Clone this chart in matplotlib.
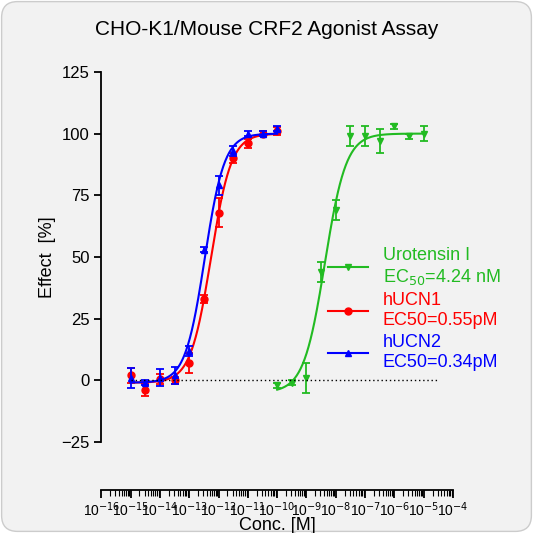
import numpy as np
import matplotlib
matplotlib.use("Agg")
import matplotlib.pyplot as plt
from matplotlib.patches import FancyBboxPatch

plt.rcParams['font.family'] = ['Liberation Sans', 'DejaVu Sans']

logx_ucn = [-15, -14.5, -14, -13.5, -13, -12.5, -12, -11.5, -11, -10.5, -10]
hucn1 = [2, -4, 0.5, 0, 7, 33, 68, 90, 96, 100, 101]
hucn1_err = [3, 2.5, 2, 1.5, 4, 1.5, 6, 2, 2, 1, 1.5]
hucn2 = [1, -1, 1, 2, 12, 53, 79, 93, 100, 100, 102]
hucn2_err = [4, 1, 3.5, 3.5, 2, 1, 4, 2, 1, 1, 1]
logx_uro = [-10, -9.5, -9, -8.5, -8, -7.5, -7, -6.5, -6, -5.5, -5]
uro = [-2, -1, 1, 44, 69, 99, 99, 97, 103, 99, 100]
uro_err = [1, 1, 6, 4, 4, 4, 4, 5, 1, 1, 3]

fits = {  # bottom, top, logEC50, hill
    'uro': (-5, 100, np.log10(4.24e-9), 1.2),
    'h1': (-1, 100, np.log10(5.5e-13), 1.25),
    'h2': (-1, 100, np.log10(3.4e-13), 1.3),
}
def fpl(lx, b, t, le, h):
    return b + (t - b) / (1 + 10 ** ((le - lx) * h))

fig = plt.figure(figsize=(5.33, 5.33), dpi=100)
fig.patch.set_facecolor('white')
bg = FancyBboxPatch((0.003, 0.003), 0.994, 0.994, boxstyle="round,pad=0,rounding_size=0.03",
                    transform=fig.transFigure, facecolor='#f2f2f2', edgecolor='#cccccc', lw=1, zorder=-10)
fig.patches.append(bg)
ax = fig.add_axes([0.19, 0.171, 0.66, 0.694])
ax.set_zorder(1)
ax.set_facecolor('none')
ax.set_xscale('log')
ax.set_xlim(1e-16, 1e-4)
ax.set_ylim(-25, 125)

green, red, blue = '#22bb22', '#ff0000', '#0000ff'
for lx, y, e, col, mk, key, lab in [
    (logx_uro, uro, uro_err, green, 'v', 'uro', 'Urotensin I\nEC$_{50}$=4.24 nM'),
    (logx_ucn, hucn1, hucn1_err, red, 'o', 'h1', 'hUCN1\nEC50=0.55pM'),
    (logx_ucn, hucn2, hucn2_err, blue, '^', 'h2', 'hUCN2\nEC50=0.34pM')]:
    x = 10 ** np.array(lx)
    ax.errorbar(x, y, yerr=e, fmt='none', ecolor=col, capsize=3, lw=1.3, capthick=1.3)
    ax.plot(x, y, mk, color=col, ms=5, ls='none')
    xx = np.linspace(lx[0], lx[-1], 300)
    ax.plot(10 ** xx, fpl(xx, *fits[key]), color=col, lw=1.5)
    ax.plot([], [], color=col, marker=mk, ms=5, lw=1.5, label=lab)

ax.axhline(0, xmin=(np.log10(1e-15) + 16) / 12, xmax=(np.log10(3e-5) + 16) / 12, color='black', ls=(0, (1, 2)), lw=1)

leg = ax.legend(loc='center left', bbox_to_anchor=(0.62, 0.36), frameon=False, fontsize=13,
                handlelength=2.2, labelspacing=0.3, borderpad=0, handletextpad=0.8)
for t, c in zip(leg.get_texts(), [green, red, blue]):
    t.set_color(c)

ax.spines['top'].set_visible(False)
ax.spines['right'].set_visible(False)
ax.spines['bottom'].set_position(('outward', 35))
ax.spines['left'].set_linewidth(1.3)
ax.spines['bottom'].set_linewidth(1.3)
ax.set_yticks([-25, 0, 25, 50, 75, 100, 125])
ax.set_xticks([10.0 ** k for k in range(-16, -3)])
ax.set_xticklabels(['10$^{%d}$' % k for k in range(-16, -3)], fontsize=10)
ax.xaxis.set_minor_locator(matplotlib.ticker.LogLocator(base=10, subs=np.arange(2, 10), numticks=100))
ax.xaxis.set_minor_formatter(matplotlib.ticker.NullFormatter())
ax.tick_params(axis='x', which='major', length=6, width=1.3, pad=1)
ax.tick_params(axis='x', which='minor', length=4, width=0.8)
ax.tick_params(axis='y', length=5, width=1.3, labelsize=12)
ax.set_xlabel('Conc. [M]', fontsize=13, labelpad=-1)
ax.set_ylabel('Effect  [%]', fontsize=13)
fig.text(0.5, 0.935, 'CHO-K1/Mouse CRF2 Agonist Assay', ha='center', fontsize=15)
fig.savefig('out.png', dpi=100)
